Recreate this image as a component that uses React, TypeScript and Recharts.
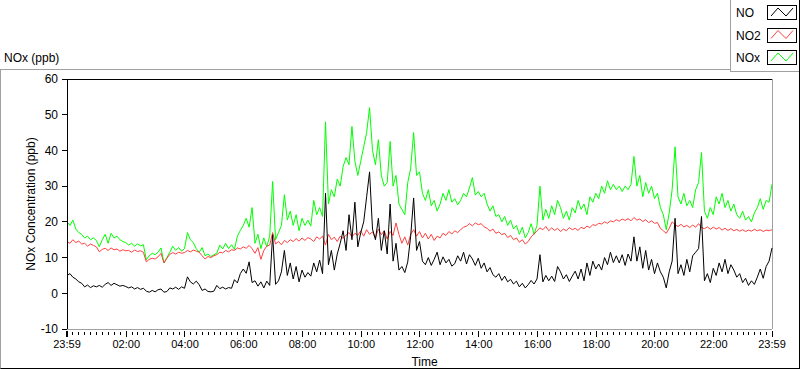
import React from "react";
import { LineChart, Line, XAxis, YAxis, Legend, ReferenceLine } from "recharts";

// one reading every 6 minutes, starting 23:59
const STEP_MIN = 6;

const NO = [
  5, 5.5, 4.5, 4, 3.2, 2.8, 1.8, 2.3, 1.6, 2.1, 1.8, 2.2, 1.7, 2.5, 3, 2.2, 2.8, 2.4, 2, 2.2,
  1.9, 1.5, 1.8, 1.2, 1.6, 1.1, 1.4, 0.6, 0.3, 0.8, 0.4, 1, 1.2, 0.3, 0.5, 1.5, 1.2, 1.7, 1.1, 1.8,
  1.4, 4.6, 3.2, 2.6, 3.4, 2.4, 0.8, 1.2, 0.5, 0.4, 0.6, 2.2, 1.3, 1.7, 1.2, 1.6, 1.4, 3.8, 2.9, 5.5,
  6.8, 5.6, 8.8, 3, 3.5, 2, 3.2, 1.5, 3.4, 2.2, 16.4, 2.5, 3.5, 6, 12, 5, 8.5, 4, 7.5, 3.2,
  6.5, 4.5, 5.8, 4.8, 8.5, 6, 9.3, 5.5, 28, 8, 12, 6.5, 11, 14, 17.5, 12, 22, 15, 25.5, 13,
  17, 20, 27, 34, 18, 15, 21, 12, 17.5, 11, 25, 9, 14, 6.5, 7.5, 5.8, 8.8, 16, 26.7, 12,
  14.5, 9, 8, 10, 7.8, 9.5, 11.5, 8, 10.2, 8.5, 9.5, 7.6, 8.3, 10.5, 9, 11.5, 8.2, 10.8, 9.6, 7.8,
  9.8, 7, 8.5, 6, 7.2, 5.2, 4.5, 5.5, 3.6, 4.8, 3.2, 3.9, 2.6, 3.4, 1.8, 2.8, 1.5, 2.4, 3.6, 2.6,
  4, 10.8, 3.2, 5, 3.5, 4.8, 3.3, 7.5, 6, 4, 5.2, 3.3, 4.8, 6.2, 4, 6.8, 3.5, 8.5, 5, 9,
  6.8, 8.2, 6.5, 10, 8, 11.5, 8.6, 10.5, 8.5, 10.8, 7.8, 11, 9, 15.8, 9, 13, 7, 12, 6.5, 9.5,
  5.5, 8.5, 6, 4.5, 1.5, 6, 9, 21, 5.5, 8, 5, 9.5, 6, 10.5, 11.5, 12.5, 21.5, 3.5, 5.5, 3,
  7, 5, 8.5, 6, 9.5, 5.5, 8, 6.5, 4.5, 5.5, 3, 4.2, 2.2, 3.5, 2.5, 4.5, 6.8, 4.2, 7.5, 9,
  12.7,
];

const NO2 = [
  14.5, 14, 15, 14.2, 14.6, 13.8, 14, 13.2, 13.8, 13.4, 13, 11.6, 12.3, 12.6, 12, 12.7, 12.2, 12.4, 11.8, 12.2,
  11.9, 12, 11.5, 12.1, 11.7, 11.9, 11.5, 8.8, 9.5, 9.8, 9.6, 10.2, 11.2, 8.5, 9.8, 10.9, 11.4, 11, 11.5, 11.2,
  11.4, 12, 11.6, 12.1, 11.8, 11.5, 10.5, 9.6, 10.3, 10, 10.5, 10.8, 11.5, 11.3, 12, 11.6, 12.2, 12, 12.7, 12.4,
  13, 12.6, 13.4, 12.5, 11.2, 12.8, 9.5, 12, 13.2, 13.5, 17, 13.8, 14.5, 13.6, 14.8, 14.2, 15, 14.5, 15.3, 14.6,
  15.5, 14.8, 15.6, 15.2, 14.5, 15.8, 15.2, 16, 13.5, 16.5, 15, 15.7, 14.5, 16, 15.4, 16.3, 17, 15.8, 16.8, 16.2,
  17.5, 16, 17.8, 16.5, 17.2, 15.5, 18, 16.4, 17.5, 15.2, 17.3, 16.2, 19.7, 16.5, 14, 15.8, 13.5, 16.5, 17.8, 16,
  17.3, 15.5, 16.8, 15.2, 16.5, 14.8, 16, 15.5, 16.8, 16.2, 17.3, 16.6, 17.5, 17, 17.8, 18.5, 18.8, 19.5, 18.9, 19.7,
  19.2, 19.5, 18.6, 18.2, 17.4, 18, 16.8, 17.2, 16.4, 16.8, 15.6, 16.2, 15, 15.5, 14.3, 15, 13.8, 14.5, 15.8, 16.6,
  17.5, 18.3, 17.8, 18.7, 17.5, 18.3, 17.6, 18.2, 17.3, 18, 17.5, 18.4, 17.8, 18.2, 17.6, 18.5, 18.1, 18.8, 18.4, 19.2,
  19, 19.6, 19.4, 20, 19.6, 20.3, 20, 20.6, 20.2, 20.8, 20.4, 20.9, 20.3, 21.2, 20.5, 20.8, 20.1, 20.6, 19.8, 20.3,
  19.6, 19.8, 18.2, 17.5, 16.8, 18.2, 20, 19.2, 18.7, 19.3, 18.6, 19, 18.4, 19.1, 18.5, 19.5, 18.4, 18.1, 18.6, 17.9,
  18.5, 18, 18.4, 17.7, 18.2, 17.6, 18.1, 17.5, 17.9, 17.4, 17.8, 17.3, 17.7, 17.4, 17.9, 17.5, 17.8, 17.3, 17.7, 17.5,
  17.8,
];

const NOX = [
  20, 19, 20.5, 18, 17, 16.5, 15.5, 16, 15, 15.5, 14.8, 13, 15, 16.5, 14, 16.8, 15.5, 16, 15, 14.5,
  14.2, 13.5, 14, 13.2, 13.8, 13.3, 13.6, 9.4, 10.5, 11.2, 10.8, 11.5, 12.7, 8.5, 10, 11.5, 13.2, 12, 12.8, 11.8,
  12.5, 17, 15, 14.2, 12.5, 11.5, 12.8, 10.5, 11, 10.3, 10.8, 11.2, 13.5, 12.4, 14, 12.5, 13.6, 12.3, 16, 17.6,
  19, 21, 18.5, 24, 14, 16.5, 12.5, 15.5, 13, 16, 31.3, 15, 17, 19, 27.6, 20.5, 23, 19, 22, 17.5,
  21, 19, 20.5, 18.8, 26, 22, 24, 21.5, 48, 25, 29, 27, 32, 30, 35.5, 38, 36, 46.7, 37, 33,
  37, 41, 45, 52, 40, 36, 43, 33, 30, 31, 42.5, 30, 33, 25, 23.5, 22, 31, 35, 45, 33,
  34, 28, 26, 29, 24.5, 26, 23, 25, 28, 26, 29, 25.5, 26.5, 24.8, 26, 28, 27, 29.5, 32.4, 27.5,
  28.5, 27, 28, 25, 23, 24.5, 21.5, 22, 20, 21.5, 19, 20.5, 18, 19, 16.5, 18.5, 15.5, 17, 19.5, 16.5,
  19, 30, 20.5, 23.5, 21, 24.5, 22, 26, 24, 21, 23, 20.5, 24, 22.5, 26, 23.5, 25, 22, 27, 25.5,
  28, 26.5, 30, 28, 31.5, 29, 30.5, 29, 30, 28.5, 30, 29, 30.5, 38.3, 30, 33, 27, 31, 28, 30,
  26.5, 28, 24, 22, 17.8, 22.5, 29, 41, 27, 25, 28, 24.5, 26, 24, 29, 31, 39.4, 23, 21, 24,
  22, 27, 25, 28, 24, 26, 23, 25, 22, 21, 23, 20.5, 21.5, 20, 22.5, 24, 26.5, 23.5, 26, 25.5,
  30.5,
];

const X_LABELS = ["23:59", "02:00", "04:00", "06:00", "08:00", "10:00", "12:00", "14:00", "16:00", "18:00", "20:00", "22:00", "23:59"];
const X_MAJOR = [0, 121, 241, 361, 481, 601, 721, 841, 961, 1081, 1201, 1321, 1440];
const Y_TICKS = [-10, 0, 10, 20, 30, 40, 50, 60];

const SERIES = [
  { key: "NO", color: "#000000" },
  { key: "NO2", color: "#ff4040" },
  { key: "NOx", color: "#00ff00" },
];

const data = NO.map((v, i) => ({ t: i * STEP_MIN, NO: v, NO2: NO2[i], NOx: NOX[i] }));

// 10 small divisions per labelled interval
const xTicks: number[] = [];
X_MAJOR.forEach((m, k) => {
  xTicks.push(m);
  const next = X_MAJOR[k + 1];
  if (next === undefined) return;
  for (let j = 1; j < 10; j++) xTicks.push(Math.round(m + ((next - m) * j) / 10));
});

const FONT = '"Liberation Sans", Arial, sans-serif';
const GRAY = "#a0a0a0";

function TimeTick({ x, y, payload }: any) {
  const idx = X_MAJOR.indexOf(payload.value);
  const major = idx >= 0;
  return (
    <g>
      <line x1={x} x2={x} y1={y + (major ? 2 : 3)} y2={y + (major ? 8 : 6)} stroke="#000" strokeWidth={idx === 0 ? 2 : 1} shapeRendering="crispEdges" />
      {major && (
        <text x={x} y={y + 15} textAnchor="middle" dominantBaseline="central" fontSize={11} fill="#000" fontFamily={FONT}>
          {X_LABELS[idx]}
        </text>
      )}
    </g>
  );
}

function YTitle({ viewBox }: any) {
  const cx = viewBox.x + 24;
  const cy = viewBox.y + viewBox.height / 2;
  return (
    <text x={cx} y={cy} transform={`rotate(-90 ${cx} ${cy})`} textAnchor="middle" dominantBaseline="central" fontSize={12} fill="#000" fontFamily={FONT}>
      NOx Concentration (ppb)
    </text>
  );
}

function XTitle({ viewBox }: any) {
  return (
    <text x={viewBox.x + viewBox.width / 2 + 5} y={viewBox.y + 33} textAnchor="middle" dominantBaseline="central" fontSize={12} fill="#000" fontFamily={FONT}>
      Time
    </text>
  );
}

function LegendBox() {
  return (
    <svg width={70} height={72} style={{ display: "block" }}>
      <rect x={0} y={0} width={70} height={72} fill="#fff" />
      <line x1={0.5} y1={0} x2={0.5} y2={72} stroke={GRAY} />
      <line x1={0} y1={71.5} x2={70} y2={71.5} stroke={GRAY} />
      <line x1={69.5} y1={0} x2={69.5} y2={72} stroke="#000" />
      {SERIES.map((s, k) => {
        const top = 5 + k * 22.5;
        const bx = 37;
        return (
          <g key={s.key}>
            <text x={6} y={top + 8} dominantBaseline="central" fontSize={12} fill="#000" fontFamily={FONT}>
              {s.key}
            </text>
            <rect x={bx + 0.5} y={Math.round(top) + 0.5} width={29} height={14} fill="#fff" stroke="#000" />
            <polyline
              points={`${bx + 4},${top + 11} ${bx + 11},${top + 3} ${bx + 19},${top + 11} ${bx + 26},${top + 3}`}
              fill="none"
              stroke={s.color}
            />
          </g>
        );
      })}
    </svg>
  );
}

export default function App() {
  return (
    <div style={{ position: "absolute", left: 0, top: 0, width: 800, height: 369, background: "#fff", fontFamily: FONT }}>
      <div style={{ position: "absolute", left: 4, top: 51, fontSize: 12, color: "#000" }}>NOx (ppb)</div>
      <div
        style={{
          position: "absolute",
          left: 0,
          top: 69,
          width: 800,
          height: 300,
          boxSizing: "border-box",
          borderTop: `1px solid ${GRAY}`,
          borderLeft: `1px solid ${GRAY}`,
          borderRight: "1px solid #000",
          borderBottom: "1px solid #000",
        }}
      />
      <div style={{ position: "absolute", left: 0, top: 0 }}>
        <LineChart width={800} height={369} data={data} margin={{ top: 79, right: 28, bottom: 10, left: 7 }}>
          <XAxis
            dataKey="t"
            type="number"
            domain={[0, 1440]}
            ticks={xTicks}
            interval={0}
            tickSize={0}
            tickMargin={0}
            height={30}
            tick={<TimeTick />}
            tickLine={false}
            axisLine={{ stroke: GRAY, shapeRendering: "crispEdges" }}
            label={<XTitle />}
          />
          <YAxis
            type="number"
            domain={[-10, 60]}
            ticks={Y_TICKS}
            interval={0}
            width={60}
            tickSize={5}
            tickMargin={4}
            tick={{ fill: "#000", fontSize: 12, fontFamily: FONT }}
            tickLine={{ stroke: "#000", shapeRendering: "crispEdges" }}
            axisLine={{ stroke: "#000", shapeRendering: "crispEdges" }}
            label={<YTitle />}
          />
          <ReferenceLine y={60} stroke="#000" ifOverflow="visible" shapeRendering="crispEdges" />
          <ReferenceLine x={1440} stroke={GRAY} ifOverflow="visible" shapeRendering="crispEdges" />
          <Line dataKey="NOx" type="linear" stroke="#00ff00" strokeWidth={1} dot={false} isAnimationActive={false} />
          <Line dataKey="NO2" type="linear" stroke="#ff4040" strokeWidth={1} dot={false} isAnimationActive={false} />
          <Line dataKey="NO" type="linear" stroke="#000000" strokeWidth={1} dot={false} isAnimationActive={false} />
          <Legend
            layout="vertical"
            align="center"
            verticalAlign="middle"
            content={<LegendBox />}
            wrapperStyle={{ top: 0, left: 730, width: 70, height: 72 }}
          />
        </LineChart>
      </div>
    </div>
  );
}
